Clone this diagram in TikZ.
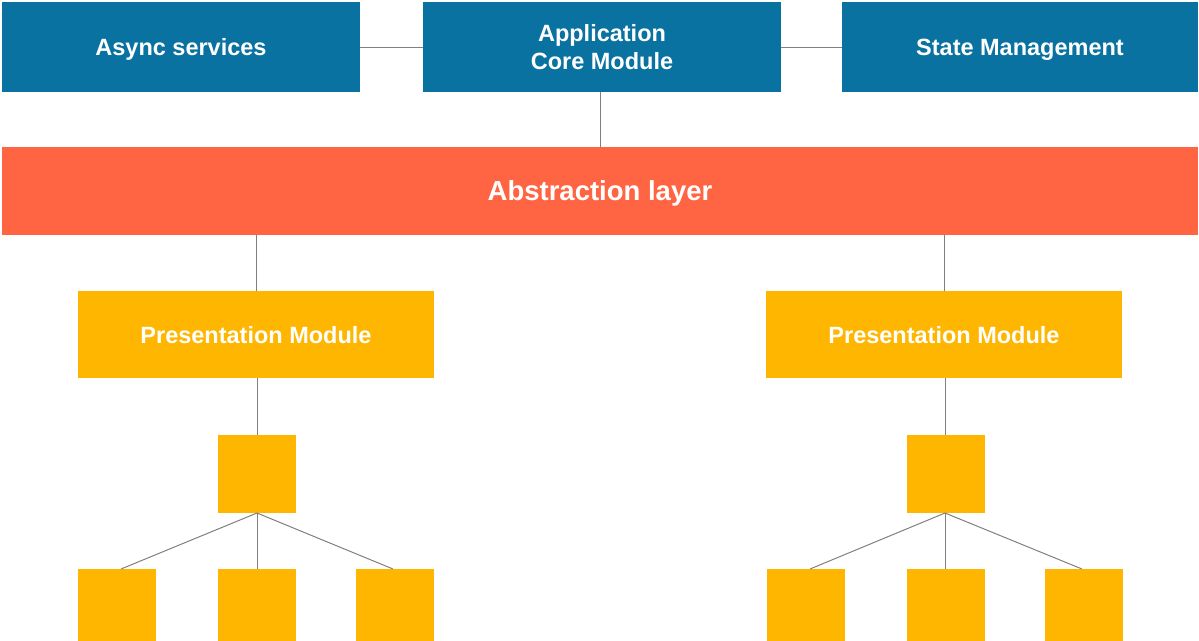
\documentclass[tikz,border=0pt]{standalone}
\usepackage{fontspec}
\setmainfont{Liberation Sans}
\usetikzlibrary{calc}
\definecolor{blueC}{HTML}{0A72A1}
\definecolor{redC}{HTML}{FF6542}
\definecolor{yelC}{HTML}{FFB600}
\definecolor{lineC}{HTML}{808080}
\tikzset{
  box/.style={inner sep=0pt, outer sep=0pt, text=white, font=\bfseries\fontsize{23.5}{27.5}\selectfont, align=center},
  oneline/.style={text depth=0pt},
  topbox/.style={box, fill=blueC, minimum width=358pt, minimum height=90pt},
  absbox/.style={box, oneline, fill=redC, minimum width=1196pt, minimum height=88pt, font=\bfseries\fontsize{27.5}{32}\selectfont},
  presbox/.style={box, oneline, fill=yelC, minimum width=356pt, minimum height=87pt},
  sqbox/.style={box, fill=yelC, minimum width=78pt, minimum height=78pt},
  conn/.style={draw=lineC, line width=1pt}
}
\begin{document}
\begin{tikzpicture}[x=1pt,y=-1pt]
\useasboundingbox (0,0) rectangle (1199,640);
\node[topbox, oneline] (async) at (181,47) {Async services};
\node[topbox] (core) at (602,47) {Application\\Core Module};
\node[topbox, oneline, minimum width=356pt] (state) at (1020,47) {State Management};
\node[absbox] (abs) at (600,191) {Abstraction layer};
\node[presbox] (presL) at (256,334.5) {Presentation Module};
\node[presbox] (presR) at (944,334.5) {Presentation Module};
\node[sqbox] (sL) at (257,474) {};
\node[sqbox] (sR) at (946,474) {};
\node[sqbox] (bL1) at (117,608) {};
\node[sqbox] (bL2) at (257,608) {};
\node[sqbox] (bL3) at (395,608) {};
\node[sqbox] (bR1) at (806,608) {};
\node[sqbox] (bR2) at (946,608) {};
\node[sqbox] (bR3) at (1084,608) {};
% connectors
\draw[conn] (async.east) -- (core.west);
\draw[conn] (core.east) -- (state.west);
\draw[conn] ($(core.south)+(-2,0)$) -- ($(core.south |- abs.north)+(-2,0)$);
\draw[conn] (presL.north) -- (presL.north |- abs.south);
\draw[conn] (presR.north) -- (presR.north |- abs.south);
\draw[conn] (sL.north |- presL.south) -- (sL.north);
\draw[conn] ($(sR.north |- presR.south)+(-1,0)$) -- ($(sR.north)+(-1,0)$);
\draw[conn] (sL.south) -- ($(bL1.north)+(4,0)$);
\draw[conn] (sL.south) -- (bL2.north);
\draw[conn] (sL.south) -- ($(bL3.north)+(-2,0)$);
\draw[conn] ($(sR.south)+(-1,0)$) -- ($(bR1.north)+(4,0)$);
\draw[conn] ($(sR.south)+(-1,0)$) -- ($(bR2.north)+(-1,0)$);
\draw[conn] ($(sR.south)+(-1,0)$) -- ($(bR3.north)+(-2,0)$);
\end{tikzpicture}
\end{document}
